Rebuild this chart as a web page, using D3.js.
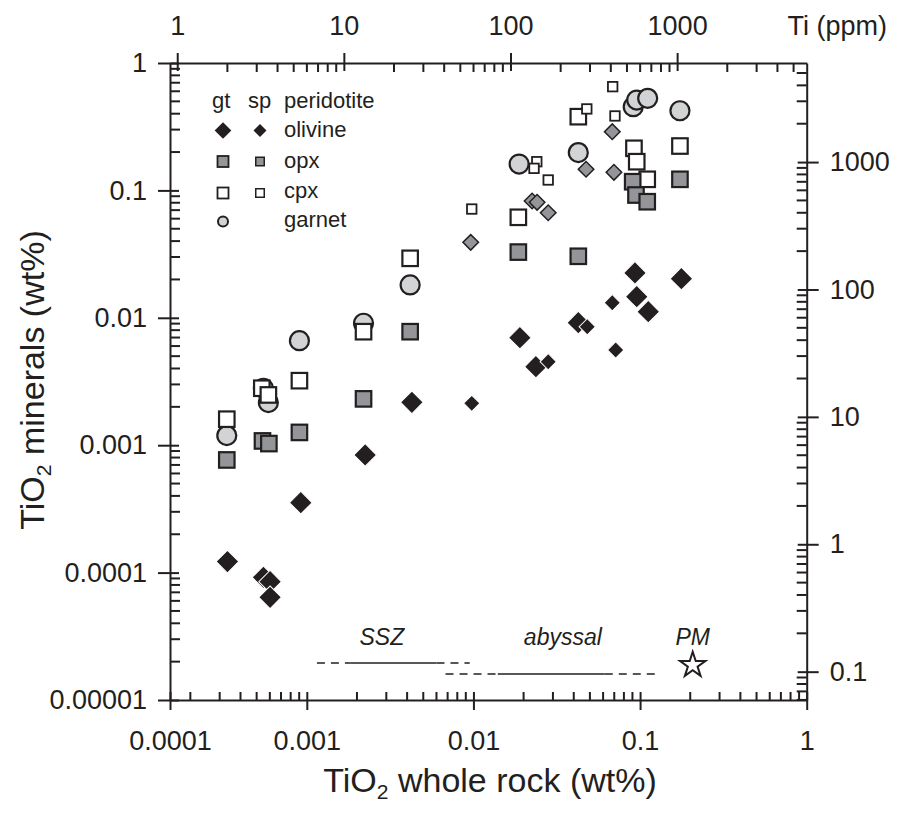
<!DOCTYPE html>
<html><head><meta charset="utf-8">
<script src="https://cdn.jsdelivr.net/npm/d3@7"></script>
<style>
body{margin:0;background:#fff}
svg{display:block}
text{font-family:"Liberation Sans",Arial,Helvetica,sans-serif;fill:#231f20}
</style>
</head><body>
<svg id="chart" width="900" height="823"></svg>
<script>
// ---------------- DATA ----------------
// TiO2 whole rock (wt%) vs TiO2 in minerals (wt%)
const gtOlivineX = [3.34e-4, 5.49e-4, 6.02e-4, 6.02e-4, 9.2e-4, 2.24e-3, 4.27e-3, 0.0190, 0.0237, 0.0426, 0.0932, 0.177, 0.0955, 0.112];
const gtOlivineY = [1.22e-4, 9.18e-5, 8.49e-5, 6.4e-5, 3.54e-4, 8.38e-4, 2.17e-3, 6.98e-3, 4.13e-3, 9.16e-3, 0.0225, 0.0203, 0.01465, 0.01117];

const spOlivineX = [9.77e-3, 0.0281, 0.0482, 0.0681, 0.0714];
const spOlivineY = [2.13e-3, 4.52e-3, 8.51e-3, 0.01313, 5.59e-3];

const gtOpxX = [3.31e-4, 5.42e-4, 5.92e-4, 9.03e-4, 2.19e-3, 4.17e-3, 0.0186, 0.0426, 0.0903, 0.0945, 0.1104, 0.1735];
const gtOpxY = [7.66e-4, 1.08e-3, 1.03e-3, 1.26e-3, 2.31e-3, 7.78e-3, 0.0328, 0.0304, 0.117, 0.092, 0.0815, 0.1222];

const spOpxX = [9.63e-3, 0.0225, 0.0241, 0.0281, 0.0474, 0.0697, 0.0681];
const spOpxY = [0.0391, 0.0826, 0.0806, 0.0668, 0.1465, 0.1387, 0.289];

const gtCpxX = [3.31e-4, 5.37e-4, 5.88e-4, 9.03e-4, 2.19e-3, 4.17e-3, 0.0186, 0.0426, 0.0919, 0.0955, 0.1104, 0.1735];
const gtCpxY = [1.6e-3, 2.8e-3, 2.48e-3, 3.21e-3, 7.78e-3, 0.0293, 0.0615, 0.379, 0.214, 0.168, 0.1222, 0.223];

const spCpxX = [9.77e-3, 0.0240, 0.0231, 0.0281, 0.0479, 0.0685, 0.0707];
const spCpxY = [0.0714, 0.168, 0.149, 0.1207, 0.436, 0.652, 0.384];

const garnetX = [3.31e-4, 5.49e-4, 5.88e-4, 9.03e-4, 2.19e-3, 4.17e-3, 0.0188, 0.0426, 0.0910, 0.0955, 0.1111, 0.1735];
const garnetY = [1.19e-3, 2.8e-3, 2.16e-3, 6.61e-3, 9.06e-3, 0.0181, 0.161, 0.198, 0.454, 0.512, 0.528, 0.422];

// whole-rock ranges: [dash start, solid start, solid end, dash end]
const sszRange = [1.15e-3, 1.82e-3, 6.0e-3, 9.5e-3];
const sszLevel = 1.95e-5;
const abyssalRange = [6.8e-3, 0.014, 0.0614, 0.126];
const abyssalLevel = 1.6e-5;
const pmX = 0.207, pmY = 1.88e-5;
const sszLabelX = 2.82e-3, abyssalLabelX = 0.0344;

// ticks
const xMajor = [0.0001, 0.001, 0.01, 0.1, 1];
const xMajorLabels = ["0.0001", "0.001", "0.01", "0.1", "1"];
const yMajor = [0.00001, 0.0001, 0.001, 0.01, 0.1, 1];
const yMajorLabels = ["0.00001", "0.0001", "0.001", "0.01", "0.1", "1"];
const tiTopMajor = [1, 10, 100, 1000];
const tiTopLabels = ["1", "10", "100", "1000"];
const tiRightMajor = [0.1, 1, 10, 100, 1000];
const tiRightLabels = ["0.1", "1", "10", "100", "1000"];
const TI_PER_TIO2 = 5993; // ppm Ti per wt% TiO2

// ---------------- LAYOUT ----------------
const L = 170, R = 806.7, T = 63, B = 700;
const INK = "#231f20", OPX = "#939598", GRT = "#d1d3d4";
const FONT = '"Liberation Sans",Arial,Helvetica,sans-serif';

const svg = d3.select("#chart");

const xLo = 1.51e-4;
const x = d3.scaleLog().domain([xLo, 1]).range([L, R]).clamp(true);
const y = d3.scaleLog().domain([1e-5, 1]).range([B, T]);
const xTi = d3.scaleLog().domain([xLo * TI_PER_TIO2, TI_PER_TIO2]).range([L, R]);
const yTi = d3.scaleLog().domain([1e-5 * TI_PER_TIO2, TI_PER_TIO2]).range([B, T]);

function minors(lo, hi) {
  const out = [];
  for (let e = Math.floor(Math.log10(lo)) - 1; e <= Math.ceil(Math.log10(hi)); e++) {
    for (let k = 2; k <= 9; k++) {
      const v = +(k * Math.pow(10, e)).toPrecision(6);
      if (v > lo * 1.0001 && v < hi / 1.0001) out.push(v);
    }
  }
  return out;
}

function styleMajor(g) {
  g.attr("font-family", FONT).attr("font-size", 27);
  g.selectAll(".tick line").attr("stroke", INK).attr("stroke-width", 2);
  g.selectAll(".tick text").attr("fill", INK);
  g.select(".domain").attr("stroke", INK).attr("stroke-width", 2);
}

// bottom
const axBM = svg.append("g").attr("transform", `translate(0,${B})`)
  .call(d3.axisBottom(x).tickValues(xMajor).tickFormat((d, i) => xMajorLabels[i]).tickSize(10).tickPadding(21).tickSizeOuter(0));
styleMajor(axBM);
axBM.selectAll(".tick line").attr("y1", -8);

// top (Ti ppm)
const axTM = svg.append("g").attr("transform", `translate(0,${T})`)
  .call(d3.axisTop(xTi).tickValues(tiTopMajor).tickFormat((d, i) => tiTopLabels[i]).tickSize(10).tickPadding(18).tickSizeOuter(0));
styleMajor(axTM);
axTM.selectAll(".tick line").attr("y1", 8);

// left
const axLM = svg.append("g").attr("transform", `translate(${L},0)`)
  .call(d3.axisLeft(y).tickValues(yMajor).tickFormat((d, i) => yMajorLabels[i]).tickSize(12).tickPadding(11).tickSizeOuter(0));
styleMajor(axLM);
axLM.selectAll(".tick line").attr("x1", 9);

// right (Ti ppm)
const axRM = svg.append("g").attr("transform", `translate(${R},0)`)
  .call(d3.axisRight(yTi).tickValues(tiRightMajor).tickFormat((d, i) => tiRightLabels[i]).tickSize(12).tickPadding(11).tickSizeOuter(0));
styleMajor(axRM);
axRM.selectAll(".tick line").attr("x1", -9);

// Ti (ppm) label
svg.append("text").attr("x", 887).attr("y", 35).attr("text-anchor", "end")
  .attr("font-size", 27).text("Ti (ppm)");

// axis titles
function subTitle(sel, before, sub, after, size) {
  sel.append("tspan").text(before);
  sel.append("tspan").text(sub).attr("font-size", size * 0.62).attr("dy", size * 0.22);
  sel.append("tspan").text(after).attr("dy", -size * 0.22);
}
const xt = svg.append("text").attr("x", 490).attr("y", 792).attr("text-anchor", "middle").attr("font-size", 34);
subTitle(xt, "TiO", "2", " whole rock (wt%)", 34);
const yt = svg.append("text").attr("transform", "translate(44,380) rotate(-90)")
  .attr("text-anchor", "middle").attr("font-size", 34);
subTitle(yt, "TiO", "2", " minerals (wt%)", 34);

// ---------------- REFERENCE RANGES ----------------
function rangeLine(r, level) {
  const yy = y(level);
  const segs = [[r[0], r[1], true], [r[1], r[2], false], [r[2], r[3], true]];
  segs.forEach(s => {
    svg.append("line").attr("x1", x(s[0])).attr("x2", x(s[1])).attr("y1", yy).attr("y2", yy)
      .attr("stroke", INK).attr("stroke-width", 1.6)
      .attr("stroke-dasharray", s[2] ? "8,6" : null);
  });
}
rangeLine(sszRange, sszLevel);
rangeLine(abyssalRange, abyssalLevel);
const labBase = y(sszLevel) - 18;
svg.append("text").attr("x", x(sszLabelX)).attr("y", labBase).attr("text-anchor", "middle")
  .attr("font-size", 23).attr("font-style", "italic").text("SSZ");
svg.append("text").attr("x", x(abyssalLabelX)).attr("y", labBase).attr("text-anchor", "middle")
  .attr("font-size", 23).attr("font-style", "italic").text("abyssal");
svg.append("text").attr("x", x(pmX)).attr("y", labBase).attr("text-anchor", "middle")
  .attr("font-size", 23).attr("font-style", "italic").text("PM");
svg.append("path").attr("d", d3.symbol(d3.symbolStar).size(200)())
  .attr("transform", `translate(${x(pmX)},${y(pmY)})`)
  .attr("fill", "#fff").attr("stroke", INK).attr("stroke-width", 2);

// ---------------- POINTS ----------------
function zip(xs, ys) { return xs.map((v, i) => [v, ys[i]]); }
const pts = svg.append("g");

function circles(data, r, fill) {
  pts.append("g").selectAll("circle").data(data).join("circle")
    .attr("cx", d => x(d[0])).attr("cy", d => y(d[1])).attr("r", r)
    .attr("fill", fill).attr("stroke", INK).attr("stroke-width", 2.2);
}
function squares(data, s, fill, sw) {
  pts.append("g").selectAll("rect").data(data).join("rect")
    .attr("x", d => x(d[0]) - s / 2).attr("y", d => y(d[1]) - s / 2)
    .attr("width", s).attr("height", s)
    .attr("fill", fill).attr("stroke", INK).attr("stroke-width", sw);
}
function diamonds(data, s, fill, stroke, sw) {
  pts.append("g").selectAll("rect").data(data).join("rect")
    .attr("x", -s / 2).attr("y", -s / 2).attr("width", s).attr("height", s)
    .attr("transform", d => `translate(${x(d[0])},${y(d[1])}) rotate(45)`)
    .attr("fill", fill).attr("stroke", stroke).attr("stroke-width", sw);
}

circles(zip(garnetX, garnetY), 9.5, GRT);
squares(zip(gtCpxX, gtCpxY), 15.5, "#fff", 2.2);
squares(zip(spCpxX, spCpxY), 9.5, "#fff", 1.8);
squares(zip(gtOpxX, gtOpxY), 15.5, OPX, 2.2);
diamonds(zip(spOpxX, spOpxY), 11, OPX, INK, 1.5);
diamonds(zip(gtOlivineX, gtOlivineY), 16, INK, "#fff", 1);
diamonds(zip(spOlivineX, spOlivineY), 11.5, INK, "#fff", 1);

// ---------------- LEGEND ----------------
const lg = svg.append("g").attr("font-size", 22);
const colGt = 223, colSp = 260, colTxt = 284;
lg.append("text").attr("x", 212).attr("y", 108).text("gt");
lg.append("text").attr("x", 248).attr("y", 108).text("sp");
lg.append("text").attr("x", colTxt).attr("y", 108).text("peridotite");
const rows = [
  {label: "olivine", base: 137},
  {label: "opx", base: 168},
  {label: "cpx", base: 198},
  {label: "garnet", base: 227}
];
rows.forEach(r => lg.append("text").attr("x", colTxt).attr("y", r.base).text(r.label));
function lDiamond(cx, cy, s) {
  lg.append("rect").attr("x", -s / 2).attr("y", -s / 2).attr("width", s).attr("height", s)
    .attr("transform", `translate(${cx},${cy}) rotate(45)`).attr("fill", INK);
}
function lSquare(cx, cy, s, fill, sw) {
  lg.append("rect").attr("x", cx - s / 2).attr("y", cy - s / 2).attr("width", s).attr("height", s)
    .attr("fill", fill).attr("stroke", INK).attr("stroke-width", sw);
}
lDiamond(colGt, 130.5, 11.8);
lDiamond(colSp, 130.5, 9.2);
lSquare(colGt, 161.5, 11, OPX, 1.8);
lSquare(colSp, 161.5, 8.5, OPX, 1.5);
lSquare(colGt, 193, 11, "#fff", 1.8);
lSquare(colSp, 193, 8.5, "#fff", 1.5);
lg.append("circle").attr("cx", colGt).attr("cy", 221.5).attr("r", 5).attr("fill", GRT)
  .attr("stroke", INK).attr("stroke-width", 2);

// ---------------- MINOR TICKS (inward), drawn last from the scales ----------------
const mg = svg.append("g").attr("stroke", INK).attr("stroke-width", 2);
function minorTicks(scale, vals, orient, len) {
  mg.append("g").selectAll("line").data(vals).join("line").each(function (d) {
    const p = scale(d), s = d3.select(this);
    if (orient === "bottom") s.attr("x1", p).attr("x2", p).attr("y1", B).attr("y2", B - len);
    if (orient === "top") s.attr("x1", p).attr("x2", p).attr("y1", T).attr("y2", T + len);
    if (orient === "left") s.attr("x1", L).attr("x2", L + len).attr("y1", p).attr("y2", p);
    if (orient === "right") s.attr("x1", R).attr("x2", R - len).attr("y1", p).attr("y2", p);
  });
}
minorTicks(x, minors(xLo, 1), "bottom", 8);
minorTicks(xTi, minors(xLo * TI_PER_TIO2, TI_PER_TIO2), "top", 9);
minorTicks(y, minors(1e-5, 1), "left", 10);
minorTicks(yTi, minors(1e-5 * TI_PER_TIO2, TI_PER_TIO2), "right", 10);
</script>
</body></html>
